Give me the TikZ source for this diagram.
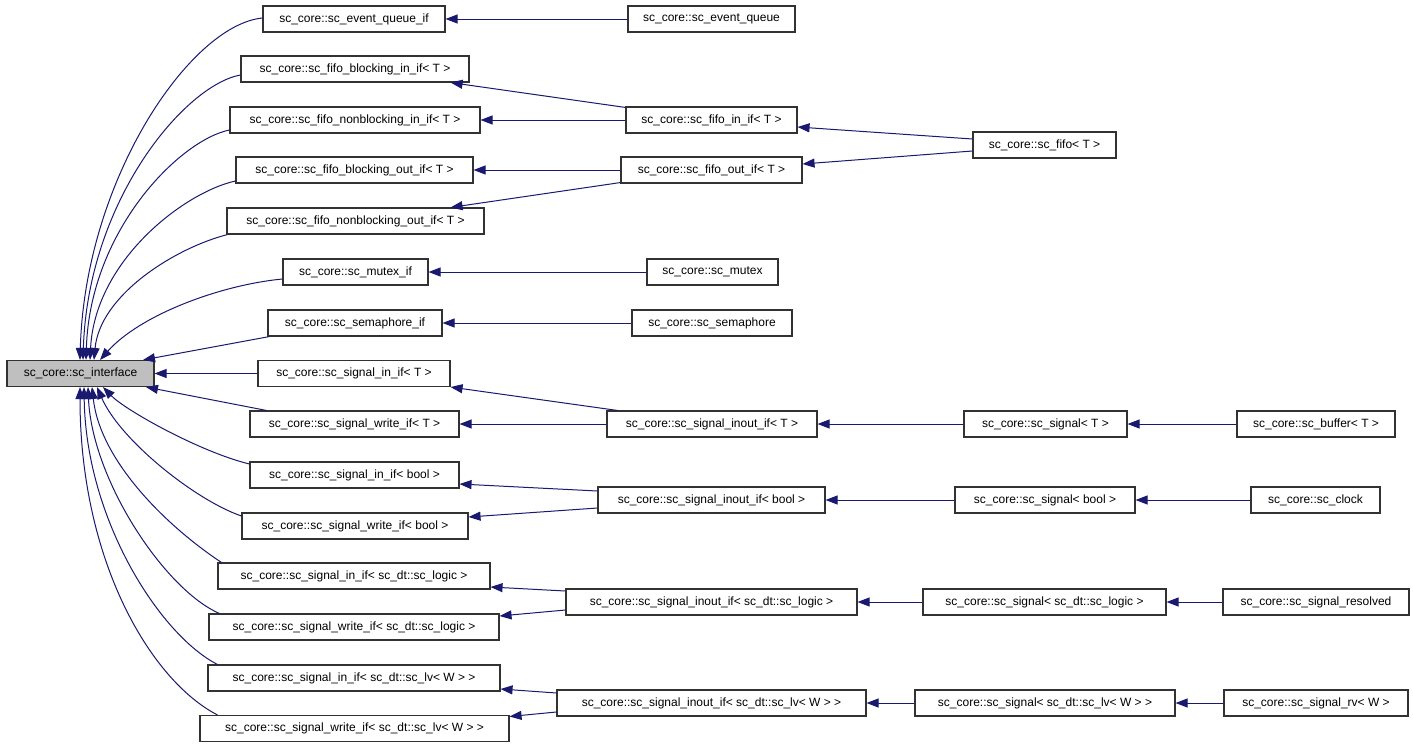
\documentclass[tikz,border=0pt]{standalone}
\usepackage{fontspec}
\setmainfont{Liberation Sans}
\usetikzlibrary{arrows.meta}
\definecolor{mblue}{RGB}{25,25,112}
\definecolor{bordc}{RGB}{50,50,50}
\definecolor{ifill}{RGB}{191,191,191}
\newcommand\mkbox[6][white]{\node[box,fill=#1,minimum width=#5pt] (#2) at (#3,#4) {#6};}
\begin{document}
\begin{tikzpicture}[x=1pt,y=-1pt,
  box/.style={draw=bordc,line width=1.1pt,inner sep=0pt,minimum height=26pt,
    font=\fontsize{12}{14}\selectfont,anchor=center},
  edge/.style={draw=mblue,line width=1pt,-{Triangle[length=12pt,width=9pt]}}]
\useasboundingbox[fill=white] (0,0) rectangle (1413,747);
% nodes
\mkbox[ifill]{iface}{80.5}{373.5}{147}{sc\_core::sc\_interface}
\mkbox{eqif}{354}{19}{182}{sc\_core::sc\_event\_queue\_if}
\mkbox{eq}{711.5}{19}{167}{sc\_core::sc\_event\_queue}
\mkbox{fbin}{355}{69}{228}{sc\_core::sc\_fifo\_blocking\_in\_if< T >}
\mkbox{fnbin}{355}{120}{250}{sc\_core::sc\_fifo\_nonblocking\_in\_if< T >}
\mkbox{fin}{711.5}{120}{171}{sc\_core::sc\_fifo\_in\_if< T >}
\mkbox{fifo}{1044.5}{145}{143}{sc\_core::sc\_fifo< T >}
\mkbox{fbout}{354.5}{170}{237}{sc\_core::sc\_fifo\_blocking\_out\_if< T >}
\mkbox{fout}{711.5}{170}{181}{sc\_core::sc\_fifo\_out\_if< T >}
\mkbox{fnbout}{355.5}{221}{257}{sc\_core::sc\_fifo\_nonblocking\_out\_if< T >}
\mkbox{mxif}{355.5}{272}{145}{sc\_core::sc\_mutex\_if}
\mkbox{mx}{712.5}{272}{131}{sc\_core::sc\_mutex}
\mkbox{smif}{355}{323}{174}{sc\_core::sc\_semaphore\_if}
\mkbox{sm}{712}{323}{160}{sc\_core::sc\_semaphore}
\mkbox{sinT}{354}{373.5}{192}{sc\_core::sc\_signal\_in\_if< T >}
\mkbox{swT}{354.5}{424}{209}{sc\_core::sc\_signal\_write\_if< T >}
\mkbox{sioT}{712}{424}{210}{sc\_core::sc\_signal\_inout\_if< T >}
\mkbox{sT}{1045.5}{424}{163}{sc\_core::sc\_signal< T >}
\mkbox{buf}{1316}{424}{158}{sc\_core::sc\_buffer< T >}
\mkbox{sinB}{354.5}{475}{209}{sc\_core::sc\_signal\_in\_if< bool >}
\mkbox{swB}{355}{526}{226}{sc\_core::sc\_signal\_write\_if< bool >}
\mkbox{sioB}{711.5}{500}{227}{sc\_core::sc\_signal\_inout\_if< bool >}
\mkbox{sB}{1045}{500}{180}{sc\_core::sc\_signal< bool >}
\mkbox{clk}{1315.5}{500}{129}{sc\_core::sc\_clock}
\mkbox{sinL}{354}{576}{272}{sc\_core::sc\_signal\_in\_if< sc\_dt::sc\_logic >}
\mkbox{swL}{354}{627}{290}{sc\_core::sc\_signal\_write\_if< sc\_dt::sc\_logic >}
\mkbox{sioL}{711.5}{602}{291}{sc\_core::sc\_signal\_inout\_if< sc\_dt::sc\_logic >}
\mkbox{sL}{1044.5}{602}{243}{sc\_core::sc\_signal< sc\_dt::sc\_logic >}
\mkbox{res}{1316}{602}{186}{sc\_core::sc\_signal\_resolved}
\mkbox{sinV}{354}{678}{292}{sc\_core::sc\_signal\_in\_if< sc\_dt::sc\_lv< W > >}
\mkbox{swV}{354.5}{728.5}{309}{sc\_core::sc\_signal\_write\_if< sc\_dt::sc\_lv< W > >}
\mkbox{sioV}{711.5}{703}{309}{sc\_core::sc\_signal\_inout\_if< sc\_dt::sc\_lv< W > >}
\mkbox{sV}{1045}{703}{260}{sc\_core::sc\_signal< sc\_dt::sc\_lv< W > >}
\mkbox{rv}{1316}{703}{184}{sc\_core::sc\_signal\_rv< W >}
% right-side connectors
\draw[edge] (eq.west) -- (eqif.east);
\draw[edge] ([yshift=-1pt]fin.north west) -- ([xshift=-19pt]fbin.south east);
\draw[edge] (fin.west) -- (fnbin.east);
\draw[edge] ([yshift=6pt]fifo.west) -- ([yshift=-7pt]fin.east);
\draw[edge] ([yshift=-6pt]fifo.west) -- ([yshift=6pt]fout.east);
\draw[edge] (fout.west) -- (fbout.east);
\draw[edge] ([yshift=1pt]fout.south west) -- ([xshift=-34pt]fnbout.north east);
\draw[edge] (mx.west) -- (mxif.east);
\draw[edge] (sm.west) -- (smif.east);
\draw[edge] ([xshift=11pt]sioT.north west) -- (sinT.south east);
\draw[edge] (sioT.west) -- (swT.east);
\draw[edge] (sT.west) -- (sioT.east);
\draw[edge] (buf.west) -- (sT.east);
\draw[edge] ([yshift=9pt]sioB.west) -- ([yshift=-9pt]sinB.east);
\draw[edge] ([yshift=-8pt]sioB.west) -- ([yshift=9pt]swB.east);
\draw[edge] (sB.west) -- (sioB.east);
\draw[edge] (clk.west) -- (sB.east);
\draw[edge] ([yshift=11pt]sioL.west) -- ([yshift=-11pt]sinL.east);
\draw[edge] ([yshift=-8pt]sioL.west) -- ([yshift=11pt]swL.east);
\draw[edge] (sL.west) -- (sioL.east);
\draw[edge] (res.west) -- (sL.east);
\draw[edge] ([yshift=10pt]sioV.west) -- ([yshift=-11pt]sinV.east);
\draw[edge] ([yshift=-9pt]sioV.west) -- ([yshift=12pt]swV.east);
\draw[edge] (sV.west) -- (sioV.east);
\draw[edge] (rv.west) -- (sV.east);
% left connectors to sc_interface (upper)
\draw[edge] ([yshift=1pt]eqif.west) .. controls (190,25) and (85,180) .. ([xshift=-0.5pt]iface.north);
\draw[edge] ([yshift=-6pt]fbin.west) .. controls (185,85) and (88,200) .. ([xshift=2.5pt]iface.north);
\draw[edge] ([yshift=-10pt]fnbin.west) .. controls (180,140) and (90,230) .. ([xshift=5.5pt]iface.north);
\draw[edge] ([yshift=-11pt]fbout.west) .. controls (185,192) and (95,260) .. ([xshift=9.5pt]iface.north);
\draw[edge] ([xshift=1pt]fnbout.south west) .. controls (175,248) and (100,295) .. ([xshift=13.5pt]iface.north);
\draw[edge] ([yshift=-7pt]mxif.west) .. controls (220,285) and (140,315) .. ([xshift=19.5pt]iface.north);
\draw[edge] ([xshift=2pt]smif.south west) -- ([xshift=62.5pt]iface.north);
\draw[edge] (sinT.west) -- (iface.east);
% lower
\draw[edge] ([xshift=17pt]swT.north west) -- ([xshift=65.5pt]iface.south);
\draw[edge] ([yshift=11pt]sinB.west) .. controls (200,452) and (125,410) .. ([xshift=22.5pt]iface.south);
\draw[edge] ([yshift=10pt]swB.west) .. controls (195,500) and (120,440) .. ([xshift=16.5pt]iface.south);
\draw[edge] ([xshift=4pt]sinL.north west) .. controls (165,525) and (100,460) .. ([xshift=11.5pt]iface.south);
\draw[edge] ([xshift=11pt]swL.north west) .. controls (165,590) and (92,480) .. ([xshift=7.5pt]iface.south);
\draw[edge] ([xshift=10pt]sinV.north west) .. controls (160,635) and (86,520) .. ([xshift=3.5pt]iface.south);
\draw[edge] ([xshift=18pt]swV.north west) .. controls (150,680) and (80,560) .. ([xshift=-0.5pt]iface.south);
\end{tikzpicture}
\end{document}
